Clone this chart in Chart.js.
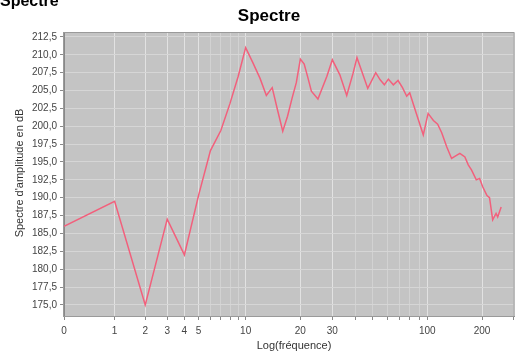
<!DOCTYPE html>
<html>
<head>
<meta charset="utf-8">
<script src="https://cdn.jsdelivr.net/npm/chart.js@4.4.0/dist/chart.umd.min.js"></script>
<style>
  html, body { margin: 0; padding: 0; background: #fff; }
  #wrap { width: 519px; height: 354px; position: relative; }
</style>
</head>
<body>
<div id="wrap"><canvas id="spectre" width="519" height="354"></canvas></div>
<script>
// frequencies (Hz) and amplitude (dB)
const freqs = [0, 1, 2, 3, 4, 5, 6, 7, 8, 9, 10, 11, 12, 13, 14, 15, 16, 17, 18, 19,
  20, 21, 22, 23, 25, 28, 30, 33, 36, 39, 41, 44, 47, 52, 55, 58, 61, 65, 69, 73,
  77, 80, 87, 95, 101, 108, 114, 120, 128, 136, 144, 151, 161, 168, 175, 186, 194,
  202, 213, 220, 229, 239, 244, 255];
const amps = [186.0, 189.5, 175.0, 187.0, 182.0, 190.3, 196.6, 199.4, 203.2, 207.0,
  211.0, 208.8, 206.7, 204.3, 205.4, 202.2, 199.3, 201.4, 203.9, 206.1,
  209.4, 208.7, 206.8, 204.9, 203.8, 207.0, 209.3, 207.2, 204.3, 207.4,
  209.6, 207.4, 205.3, 207.5, 206.5, 205.8, 206.6, 205.8, 206.4, 205.4,
  204.2, 204.7, 201.8, 198.8, 201.8, 200.8, 200.3, 199.1, 197.1, 195.5,
  195.9, 196.2, 195.7, 194.6, 193.9, 192.5, 192.7, 191.5, 190.3, 190.0,
  186.9, 187.8, 187.3, 188.7];

const xTicks = [0, 1, 2, 3, 4, 5, 6, 7, 8, 9, 10, 20, 30, 40, 50, 60, 70, 80, 90, 100, 200, 300];
const xLabels = ["0", "1", "2", "3", "4", "5", "", "", "", "", "10", "20", "30", "", "", "", "", "", "", "100", "200", ""];
const yTicks = [175, 177.5, 180, 182.5, 185, 187.5, 190, 192.5, 195, 197.5, 200, 202.5, 205, 207.5, 210, 212.5];

// log axis that also accepts values below 10 (smooth near zero)
function logX(v) {
  if (v < 10) v = v + (10 - v) / 10;
  return Math.log10(v);
}

let points = [];
for (let i = 0; i < freqs.length; i++) {
  points.push({ x: logX(freqs[i]), y: amps[i] });
}

const textFont = "'Liberation Sans', Arial, sans-serif";

const decor = {
  id: "decor",
  beforeDraw(chart) {
    const c = chart.ctx, a = chart.chartArea;
    c.save();
    c.fillStyle = "#fff";
    c.fillRect(0, 0, chart.width, chart.height);
    c.fillStyle = "#c4c4c4";
    c.fillRect(a.left, a.top, a.right - a.left, a.bottom - a.top);
    c.restore();
  },
  afterDraw(chart) {
    const c = chart.ctx, a = chart.chartArea;
    c.save();
    c.strokeStyle = "#9a9a9a";
    c.lineWidth = 1;
    c.strokeRect(a.left - 0.5, a.top - 0.5, a.right - a.left, a.bottom - a.top + 1);

    c.fillStyle = "#000";
    c.textAlign = "center";
    c.textBaseline = "middle";
    c.font = "bold 17px " + textFont;
    c.fillText("Spectre", 269, 16);

    // cropped window title at the very top
    c.textAlign = "left";
    c.textBaseline = "alphabetic";
    c.font = "bold 16px " + textFont;
    c.fillText("Spectre", 0, 6);

    c.fillStyle = "#333";
    c.font = "11px " + textFont;
    c.textAlign = "center";
    c.textBaseline = "middle";
    c.fillText("Log(fréquence)", 294, 346);

    c.translate(20, 173);
    c.rotate(-Math.PI / 2);
    c.fillText("Spectre d'amplitude en dB", 0, 0);
    c.restore();
  }
};

new Chart(document.getElementById("spectre"), {
  type: "line",
  data: {
    datasets: [{
      data: points,
      borderColor: "#f2607c",
      borderWidth: 1.5,
      pointRadius: 0,
      tension: 0,
      fill: false
    }]
  },
  options: {
    responsive: false,
    animation: false,
    layout: { padding: { top: 33, right: 2, bottom: 0, left: 0 } },
    plugins: { legend: { display: false }, tooltip: { enabled: false } },
    scales: {
      x: {
        type: "linear",
        min: 0,
        max: 2.48,
        afterBuildTicks: function(scale) {
          scale.ticks = xTicks.map(v => ({ value: logX(v) }));
        },
        afterFit: function(scale) { scale.height = 38; },
        ticks: {
          autoSkip: false,
          maxRotation: 0,
          padding: 5,
          color: "#444",
          font: { family: textFont, size: 10 },
          callback: function(v, i) { return xLabels[i]; }
        },
        grid: {
          color: function(ctx) {
            return xLabels[ctx.index] ? "#e2e2e2" : "#d2d2d2";
          },
          tickColor: "#888",
          tickLength: 4,
          lineWidth: 1
        },
        border: { display: true, color: "#888" }
      },
      y: {
        type: "linear",
        min: 173.45,
        max: 213.05,
        afterBuildTicks: function(scale) {
          scale.ticks = yTicks.map(v => ({ value: v }));
        },
        afterFit: function(scale) { scale.width = 64; },
        ticks: {
          padding: 3,
          color: "#444",
          font: { family: textFont, size: 10 },
          callback: function(v) { return v.toFixed(1).replace(".", ","); }
        },
        grid: {
          color: "#d6d6d6",
          tickColor: "#888",
          tickLength: 4
        },
        border: { display: true, color: "#888" }
      }
    }
  },
  plugins: [decor]
});
</script>
</body>
</html>
